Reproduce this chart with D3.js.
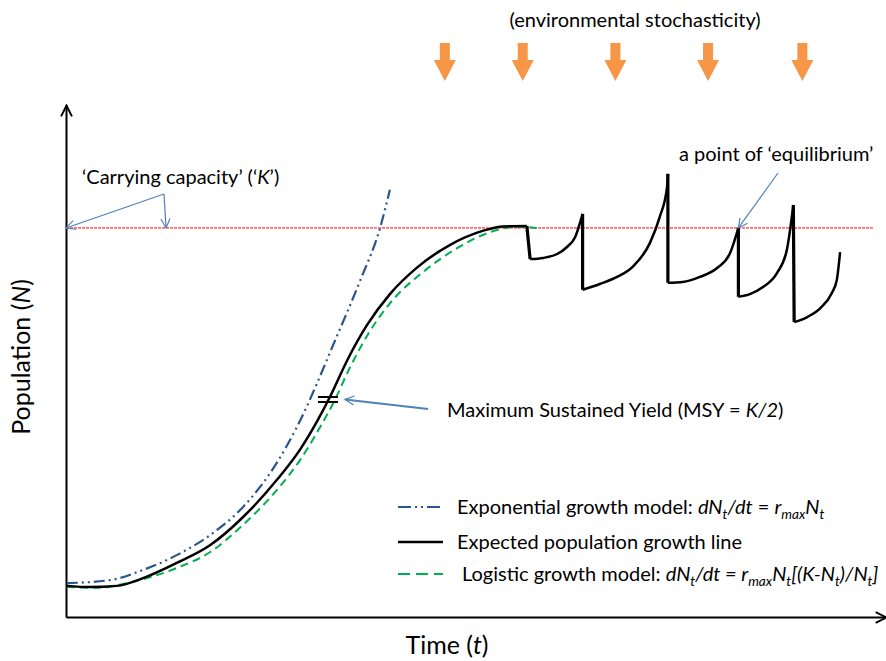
<!DOCTYPE html>
<html>
<head>
<meta charset="utf-8">
<script src="https://cdn.jsdelivr.net/npm/d3@7"></script>
<style>
body { margin: 0; background: #fff; }
text { font-family: Lato, "Open Sans", sans-serif; fill: #000; }
</style>
</head>
<body>
<div id="chart"></div>
<script>
// time (t) and population (N) in arbitrary units, carrying capacity K = 100
const K = 100;

// expected population growth (black) up to the plateau at K
const expectedGrowth = [
    [0.1, 8.0], [2.9, 7.7], [6.2, 8.0], [9.4, 10.0], [13.5, 13.9], [17.6, 18.5],
    [21.6, 25.7], [25.7, 35.2], [28.5, 42.9], [30.7, 50.6], [32.2, 56.6],
    [34.3, 66.0], [36.7, 75.0], [39.5, 83.0], [42.8, 89.8], [46.8, 95.6],
    [50.9, 99.3], [53.3, 100.4], [56.2, 100.5]
];

// recoveries after each environmental shock (black saw-tooth)
const recoveries = [
    [[56.6, 92.0], [58.2, 92.3], [59.9, 93.3], [61.1, 95.1], [62.1, 97.7], [63.0, 103.6]],
    [[63.0, 84.1], [65.1, 85.6], [67.2, 87.4], [69.2, 90.2], [71.2, 96.1], [72.4, 102.8], [73.3, 110.5], [73.4, 113.9]],
    [[73.4, 85.9], [75.2, 86.1], [77.3, 87.4], [79.4, 89.7], [81.0, 93.6], [82.0, 100.0]],
    [[82.0, 82.3], [83.4, 83.0], [85.0, 84.8], [86.7, 88.4], [87.9, 94.3], [88.7, 105.9]],
    [[88.8, 75.8], [90.4, 77.1], [92.0, 79.4], [93.4, 83.3], [94.0, 86.6], [94.4, 93.8]]
];

// logistic growth model (green dashed)
const logistic = [
    [0.1, 7.7], [4.1, 7.5], [7.4, 8.7], [13.5, 12.6], [17.6, 16.7], [21.6, 23.7],
    [25.7, 32.6], [28.5, 40.2], [31.2, 49.6], [32.6, 55.0], [34.6, 64.0],
    [37.1, 73.6], [39.9, 81.6], [43.5, 88.6], [47.7, 94.8], [51.7, 98.9],
    [55.0, 100.3], [57.4, 100.0]
];

// exponential growth model (blue dash-dot-dot)
const exponential = [
    [0.1, 8.7], [5.4, 9.5], [9.4, 12.1], [13.5, 15.9], [17.6, 21.1], [21.6, 28.3],
    [25.7, 39.6], [28.2, 49.0], [33.0, 72.0], [35.9, 86.6], [38.3, 100.0], [39.5, 109.8]
];

const msyPoint = [31.95, 55.9];
const equilibriumPoint = [82.0, 100];
const shockTimes = [46.2, 55.7, 67.0, 78.3, 89.8];
const kArrowTips = [0, 12.2];
const kLineEnd = 98.4;

// text labels, as [text, style] parts ("i" italic, "isub" italic subscript)
const legendLabels = [
    [["Exponential growth model: "], ["dN", "i"], ["t", "isub"], ["/dt", "i"], [" = "],
     ["r", "i"], ["max", "isub"], ["N", "i"], ["t", "isub"]],
    [["Expected population growth line"]],
    [["Logistic growth model: "], ["dN", "i"], ["t", "isub"], ["/dt = r", "i"], ["max", "isub"],
     ["N", "i"], ["t", "isub"], ["[(K-N", "i"], ["t", "isub"], [")/N", "i"], ["t", "isub"], ["]", "i"]]
];
const kLabel = [["\u2018Carrying capacity\u2019 (\u2018"], ["K", "i"], ["\u2019)"]];
const msyLabel = [["Maximum Sustained Yield (MSY = "], ["K/2", "i"], [")"]];
const equilibriumLabel = [["a point of \u2018equilibrium\u2019"]];
const stochasticityLabel = [["(environmental stochasticity)"]];
const xTitle = [["Time ("], ["t", "i"], [")"]];
const yTitle = [["Population ("], ["N", "i"], [")"]];

const width = 886;
const height = 661;
const blue = "#4F81BD";

const svg = d3.select("#chart")
    .append("svg")
    .attr("width", width)
    .attr("height", height);

const x = d3.scaleLinear().domain([0, 100]).range([66, 886]);
const y = d3.scaleLinear().domain([0, 131.6]).range([617, 105]);

// arrow heads
const defs = svg.append("defs");
function addHead(id, color, size, sw) {
    defs.append("marker")
        .attr("id", id)
        .attr("viewBox", "0 0 12 12")
        .attr("refX", 11)
        .attr("refY", 6)
        .attr("markerWidth", size)
        .attr("markerHeight", size)
        .attr("markerUnits", "userSpaceOnUse")
        .attr("orient", "auto")
        .append("path")
        .attr("d", "M1,1 L11,6 L1,11")
        .attr("fill", "none")
        .attr("stroke", color)
        .attr("stroke-width", sw);
}
addHead("axisHead", "#000", 13, 1.8);
addHead("blueHead", blue, 11, 1.3);

function richText(sel, parts, size) {
    let shifted = false;
    parts.forEach(([s, st]) => {
        const ts = sel.append("tspan").text(s);
        if (st && st.startsWith("i")) ts.attr("font-style", "italic");
        if (st === "isub") {
            ts.attr("font-size", size * 0.68);
            if (!shifted) ts.attr("dy", size * 0.25);
            shifted = true;
        } else if (shifted) {
            ts.attr("dy", -size * 0.25);
            shifted = false;
        }
    });
    return sel;
}

function label(parts, px, py, size, anchor) {
    const t = svg.append("text")
        .attr("x", px)
        .attr("y", py)
        .attr("font-size", size)
        .attr("text-anchor", anchor || "start");
    return richText(t, parts, size);
}

// axes
const xAxis = svg.append("g")
    .attr("transform", `translate(0, ${y(0)})`)
    .call(d3.axisBottom(x).tickValues([]).tickSizeOuter(0));
const yAxis = svg.append("g")
    .attr("transform", `translate(${x(0)}, 0)`)
    .call(d3.axisLeft(y).tickValues([]).tickSizeOuter(0));
[xAxis, yAxis].forEach(a => a.select(".domain")
    .attr("stroke", "#000")
    .attr("stroke-width", 2)
    .attr("marker-end", "url(#axisHead)"));

// carrying capacity line
svg.append("line")
    .attr("x1", x(0)).attr("x2", x(kLineEnd))
    .attr("y1", y(K)).attr("y2", y(K))
    .attr("stroke", "#FF0000")
    .attr("stroke-width", 1)
    .attr("stroke-dasharray", "3,1");

const line = d3.line()
    .x(d => x(d[0]))
    .y(d => y(d[1]))
    .curve(d3.curveMonotoneX);

// exponential model
svg.append("path")
    .datum(exponential)
    .attr("d", line)
    .attr("fill", "none")
    .attr("stroke", "#2B5592")
    .attr("stroke-width", 2.2)
    .attr("stroke-dasharray", "11,4,2,4,2,4");

// logistic model
svg.append("path")
    .datum(logistic)
    .attr("d", line)
    .attr("fill", "none")
    .attr("stroke", "#00B050")
    .attr("stroke-width", 2)
    .attr("stroke-dasharray", "8,5");

// expected growth + saw-tooth recoveries
[expectedGrowth, ...recoveries].forEach(seg => {
    svg.append("path")
        .datum(seg)
        .attr("d", line)
        .attr("fill", "none")
        .attr("stroke", "#000")
        .attr("stroke-width", 2.5);
});
recoveries.forEach((seg, i) => {
    const prev = i === 0 ? expectedGrowth : recoveries[i - 1];
    const a = prev[prev.length - 1];
    const b = seg[0];
    svg.append("line")
        .attr("x1", x(a[0])).attr("y1", y(a[1]))
        .attr("x2", x(b[0])).attr("y2", y(b[1]))
        .attr("stroke", "#000")
        .attr("stroke-width", 3.2);
});

// MSY marker "="
[-2.5, 2.5].forEach(off => {
    svg.append("line")
        .attr("x1", x(msyPoint[0]) - 10).attr("x2", x(msyPoint[0]) + 10)
        .attr("y1", y(msyPoint[1]) + off).attr("y2", y(msyPoint[1]) + off)
        .attr("stroke", "#000")
        .attr("stroke-width", 2);
});

// environmental shocks
svg.selectAll(".shock")
    .data(shockTimes)
    .join("path")
    .attr("class", "shock")
    .attr("fill", "#F79646")
    .attr("d", t => {
        const cx = x(t);
        return `M${cx - 5},43 H${cx + 5} V60 H${cx + 11} L${cx},81 L${cx - 11},60 H${cx - 5} Z`;
    });

// annotation arrows
function arrow(x1, y1, x2, y2, sw) {
    svg.append("line")
        .attr("x1", x1).attr("y1", y1)
        .attr("x2", x2).attr("y2", y2)
        .attr("stroke", blue)
        .attr("stroke-width", sw)
        .attr("marker-end", "url(#blueHead)");
}
kArrowTips.forEach(t => arrow(164, 194, x(t), y(K), 1.2));
arrow(778, 173, x(equilibriumPoint[0]), y(equilibriumPoint[1]), 1.2);
arrow(428, 409, x(msyPoint[0]) + 17, y(msyPoint[1]), 2);

// labels
label(stochasticityLabel, 635, 27, 20, "middle");
label(kLabel, 82, 184, 20);
label(equilibriumLabel, 679, 161, 20);
label(msyLabel, 447, 417, 20);
label(xTitle, 447, 654, 25, "middle");
svg.append("g")
    .attr("transform", "translate(30, 357) rotate(-90)")
    .call(g => richText(g.append("text").attr("text-anchor", "middle").attr("font-size", 25), yTitle, 25));

// legend
const legendStyles = [
    { stroke: "#2B5592", dash: "13,4,2,4,2,4", w: 2.2 },
    { stroke: "#000", dash: null, w: 2.5 },
    { stroke: "#00B050", dash: "12,6", w: 2 }
];
const legendRows = [507, 542, 574];
legendLabels.forEach((parts, i) => {
    svg.append("line")
        .attr("x1", 398).attr("x2", 443)
        .attr("y1", legendRows[i]).attr("y2", legendRows[i])
        .attr("stroke", legendStyles[i].stroke)
        .attr("stroke-width", legendStyles[i].w)
        .attr("stroke-dasharray", legendStyles[i].dash);
    label(parts, i === 2 ? 462 : 457, legendRows[i] + 7, 20);
});
</script>
</body>
</html>
